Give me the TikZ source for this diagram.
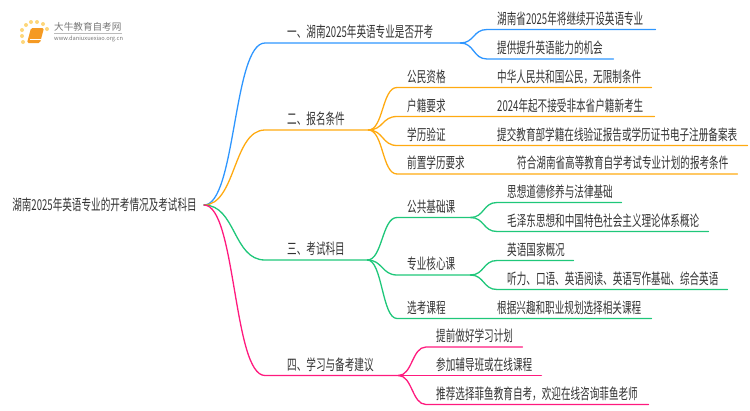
\documentclass[tikz,border=0pt]{standalone}
\usepackage{fontspec}
\setmainfont[FakeStretch=0.64]{Noto Sans CJK SC}
\newfontfamily\logofont{Noto Sans CJK SC}
\usepackage{xcolor}
\usepackage{tikz}
\definecolor{bluebr}{HTML}{2E96FF}
\definecolor{orangebr}{HTML}{FFAA11}
\definecolor{greenbr}{HTML}{1FC77A}
\definecolor{pinkbr}{HTML}{FF1A7E}
\definecolor{inkgray}{HTML}{333333}
\definecolor{logogray}{HTML}{777777}
\definecolor{logodot}{HTML}{FDD67A}
\definecolor{logobook}{HTML}{F59A23}
\tikzset{
  pad/.style={execute at begin node={\hspace*{#1}}},
  item/.style={anchor=south west,inner xsep=0pt,inner ysep=2pt,text width=#1,align=left,
    text height=11pt,text depth=3pt,text=inkgray,font=\fontsize{15}{16}\selectfont},
  branch/.style={line width=1.3pt,line cap=round},
}
\begin{document}
\begin{tikzpicture}[x=1pt,y=-1pt]
  \useasboundingbox (0,0) rectangle (750,410);
  % logo
  \foreach \px/\py in {22/30,26/25,31/22,37/22,43/24,47/29,22/36,23/42}
    \fill [logodot] (\px,\py) circle (2);
  \fill [logobook,rounded corners=1.5pt] (31,28) -- (44,28) -- (40,43) -- (27,43) -- cycle;
  \draw [white,line width=.7pt] (29.5,39.5) -- (40.5,39.5);
  \node (logoname) [anchor=west,inner sep=0pt,text=logogray,font=\logofont\fontsize{9.6}{10}\selectfont] at (54,27) {大牛教育自考网};
  \draw [logogray!50,line width=.4pt] (54,33.5) -- (122,33.5);
  \node (logourl) [anchor=west,inner sep=0pt,text=logogray,font=\logofont\fontsize{5.7}{7}\selectfont] at (54,38.5) {www.daniuxuexiao.org.cn};
  % root
  \node (root) [anchor=east,inner sep=0pt,inner xsep=7pt,text=inkgray,font=\fontsize{15}{16}\selectfont] at (204,205) {湖南2025年英语专业的开考情况及考试科目};
  % main branches
  \node (one) [item=195pt,pad=22pt] at (265,43) {一、湖南2025年英语专业是否开考};
  \node (two) [item=103pt,pad=22pt] at (265,130) {二、报名条件};
  \node (three) [item=102pt,pad=22pt] at (265,260) {三、考试科目};
  \node (four) [item=133pt,pad=22pt] at (265,375.5) {四、学习与备考建议};
  % first branch
  \node (oneA) [item=168pt,pad=10pt] at (487,29.5) {湖南省2025年将继续开设英语专业};
  \node (oneB) [item=126pt,pad=10pt] at (487,59) {提供提升英语能力的机会};
  % second branch
  \node (citizen) [item=90pt,pad=10pt] at (397,87.5) {公民资格};
  \node (huji) [item=90pt,pad=10pt] at (397,116.5) {户籍要求};
  \node (degree) [item=90pt,pad=10pt] at (397,145.5) {学历验证};
  \node (prior) [item=110pt,pad=10pt] at (397,174) {前置学历要求};
  \node (citizenA) [item=164pt,pad=10pt] at (487,87.5) {中华人民共和国公民，无限制条件};
  \node (hujiA) [item=167pt,pad=10pt] at (487,116.5) {2024年起不接受非本省户籍新考生};
  \node (degreeA) [item=260pt,pad=10pt] at (487,145.5) {提交教育部学籍在线验证报告或学历证书电子注册备案表};
  \node (priorA) [item=230pt,pad=10pt] at (507,174) {符合湖南省高等教育自学考试专业计划的报考条件};
  % third branch
  \node (public) [item=73pt,pad=10pt] at (397,217.5) {公共基础课};
  \node (core) [item=73pt,pad=10pt] at (397,275) {专业核心课};
  \node (elect) [item=90pt,pad=10pt] at (397,318.5) {选考课程};
  \node (publicA) [item=124pt,pad=10pt] at (497,202.5) {思想道德修养与法律基础};
  \node (publicB) [item=211pt,pad=10pt] at (497,231.5) {毛泽东思想和中国特色社会主义理论体系概论};
  \node (coreA) [item=76pt,pad=10pt] at (497,260.5) {英语国家概况};
  \node (coreB) [item=230pt,pad=10pt] at (497,289.5) {听力、口语、英语阅读、英语写作基础、综合英语};
  \node (electA) [item=164pt,pad=10pt] at (487,318.5) {根据兴趣和职业规划选择相关课程};
  % fourth branch
  \node (planA) [item=96pt,pad=10pt] at (426,347) {提前做好学习计划};
  \node (planB) [item=115pt,pad=10pt] at (426,375.5) {参加辅导班或在线课程};
  \node (planC) [item=222pt,pad=10pt] at (426,404.5) {推荐选择菲鱼教育自考，欢迎在线咨询菲鱼老师};
  % connectors
  \draw [branch,bluebr] (root.east) .. controls +(32,0) and +(-32,0) .. (one.south west) -- (one.south east);
  \draw [branch,orangebr] (root.east) .. controls +(32,0) and +(-32,0) .. (two.south west) -- (two.south east);
  \draw [branch,greenbr] (root.east) .. controls +(32,0) and +(-32,0) .. (three.south west) -- (three.south east);
  \draw [branch,pinkbr] (root.east) .. controls +(32,0) and +(-32,0) .. (four.south west) -- (four.south east);
  \foreach \kid in {oneA,oneB}
    \draw [branch,bluebr] (one.south east) .. controls +(14,0) and +(-14,0) .. (\kid.south west) -- (\kid.south east);
  \foreach \kid/\leaf in {citizen/citizenA,huji/hujiA,degree/degreeA,prior/priorA}
    \draw [branch,orangebr] (two.south east) .. controls +(15,0) and +(-15,0) .. (\kid.south west) -- (\leaf.south east);
  \foreach \kid in {public,core}
    \draw [branch,greenbr] (three.south east) .. controls +(15,0) and +(-15,0) .. (\kid.south west) -- (\kid.south east);
  \draw [branch,greenbr] (three.south east) .. controls +(15,0) and +(-15,0) .. (elect.south west) -- (electA.south east);
  \foreach \kid in {publicA,publicB}
    \draw [branch,greenbr] (public.south east) .. controls +(14,0) and +(-14,0) .. (\kid.south west) -- (\kid.south east);
  \foreach \kid in {coreA,coreB}
    \draw [branch,greenbr] (core.south east) .. controls +(14,0) and +(-14,0) .. (\kid.south west) -- (\kid.south east);
  \foreach \kid in {planA,planB,planC}
    \draw [branch,pinkbr] (four.south east) .. controls +(14,0) and +(-14,0) .. (\kid.south west) -- (\kid.south east);
\end{tikzpicture}
\end{document}
